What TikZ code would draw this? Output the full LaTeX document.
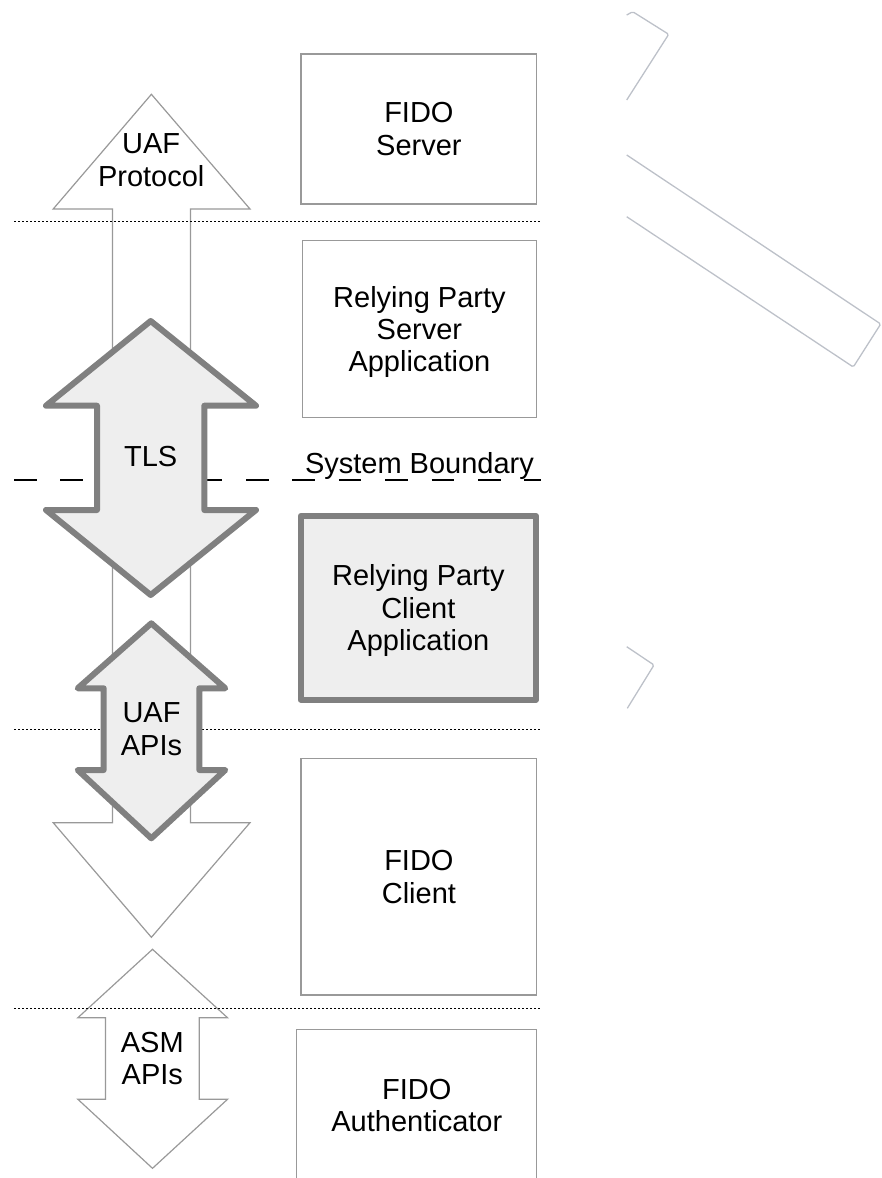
\documentclass[tikz,border=0pt]{standalone}
\usepackage{fontspec}
\setmainfont{Liberation Sans}
\definecolor{thingray}{HTML}{999999}
\definecolor{thickgray}{HTML}{808080}
\definecolor{lightfill}{HTML}{EEEEEE}
\definecolor{ghostline}{HTML}{BDC1C9}
\begin{document}
\begin{tikzpicture}[x=1pt,y=-1pt,
  labeltext/.style={font=\fontsize{29}{32.4}\selectfont, align=center, inner sep=0pt, outer sep=0pt},
  plainbox/.style={labeltext, draw=thingray, line width=1.2pt, rectangle},
  focusbox/.style={labeltext, draw=thickgray, line width=6pt, line join=round, fill=lightfill, rectangle},
  thinarrow/.style={draw=thingray, line width=1.2pt, fill=white},
  asmarrow/.style={draw=thingray, line width=1.2pt},
  thickarrow/.style={draw=thickgray, line width=6pt, line join=round, fill=lightfill},
  dotline/.style={draw=black, line width=0.9pt, dash pattern=on 2pt off 2pt},
  boundaryline/.style={draw=black, line width=1.3pt, dash pattern=on 22.6pt off 23.8pt},
  ghost/.style={draw=ghostline, line width=1.3pt, rounded corners=1.5pt}
]
\useasboundingbox (0,0) rectangle (882,1178);

% UAF protocol double arrow (white, thin)
\draw[thinarrow] (151.4,94.3) -- (250,209) -- (190.4,209) -- (190.4,822.7) -- (250,822.7)
  -- (151.4,937.3) -- (53.2,822.7) -- (112.5,822.7) -- (112.5,209) -- (53.2,209) -- cycle;

% ASM APIs double arrow (thin, unfilled)
\draw[asmarrow] (152.5,949.3) -- (227.5,1017.7) -- (199.3,1017.7) -- (199.3,1099.3) -- (227.5,1099.3)
  -- (152.5,1168.3) -- (77.9,1099.3) -- (105.4,1099.3) -- (105.4,1017.7) -- (77.9,1017.7) -- cycle;

% boxes
\node[plainbox, minimum width=235.8pt, minimum height=150pt] (fidoserver) at (418.9,129) {FIDO\\Server};
\node[plainbox, minimum width=233.9pt, minimum height=176.6pt] (rpserver) at (419.45,329) {Relying Party\\Server\\\smash{Application}};
\node[focusbox, minimum width=235.3pt, minimum height=183.7pt] (rpclient) at (418.35,607.85) {Relying Party\\Client\\\smash{Application}};
\node[plainbox, minimum width=235.8pt, minimum height=236.3pt] (fidoclient) at (418.9,876.85) {FIDO\\Client};
\node[plainbox, minimum width=240pt, minimum height=152pt] (fidoauth) at (416.8,1105.3) {FIDO\\Authenticator};

% layer separators
\draw[dotline] (14,221.5) -- (541,221.5);
\draw[dotline] (14,729.5) -- (541,729.5);
\draw[dotline] (14,1008.3) -- (541,1008.3);

% system boundary
\draw[boundaryline] (14,480) -- (541,480);
\node[labeltext, anchor=base west] (sysboundary) at (305,473) {System Boundary};

% TLS double arrow
\draw[thickarrow] (150.7,321) -- (256,405.7) -- (204.3,405.7) -- (204.3,510) -- (256,510)
  -- (150.7,595) -- (46,510) -- (97,510) -- (97,405.7) -- (46,405.7) -- cycle;

% UAF APIs double arrow
\draw[thickarrow] (151.3,623.3) -- (225.3,688.3) -- (199.3,688.3) -- (199.3,770) -- (225.3,770)
  -- (151.3,838.3) -- (77.7,770) -- (103.7,770) -- (103.7,688.3) -- (77.7,688.3) -- cycle;

% arrow labels
\node[labeltext] (uafprotocol) at (151.2,160) {UAF\\Protocol};
\node[labeltext] (tls) at (150.7,456.7) {TLS};
\node[labeltext] (uafapis) at (151.5,729) {UAF\\APIs};
\node[labeltext] (asmapis) at (152.3,1058.5) {ASM\\APIs};

% faint residual outlines at right
\draw[ghost] (626.7,15) -- (632.7,11.7) -- (668.7,34.3) -- (626.7,100);
\draw[ghost] (626.7,155) -- (880.7,324) -- (853.3,367) -- (626.7,216.7);
\draw[ghost] (626.7,646.7) -- (654,665) -- (627.3,708.3);
\end{tikzpicture}
\end{document}
